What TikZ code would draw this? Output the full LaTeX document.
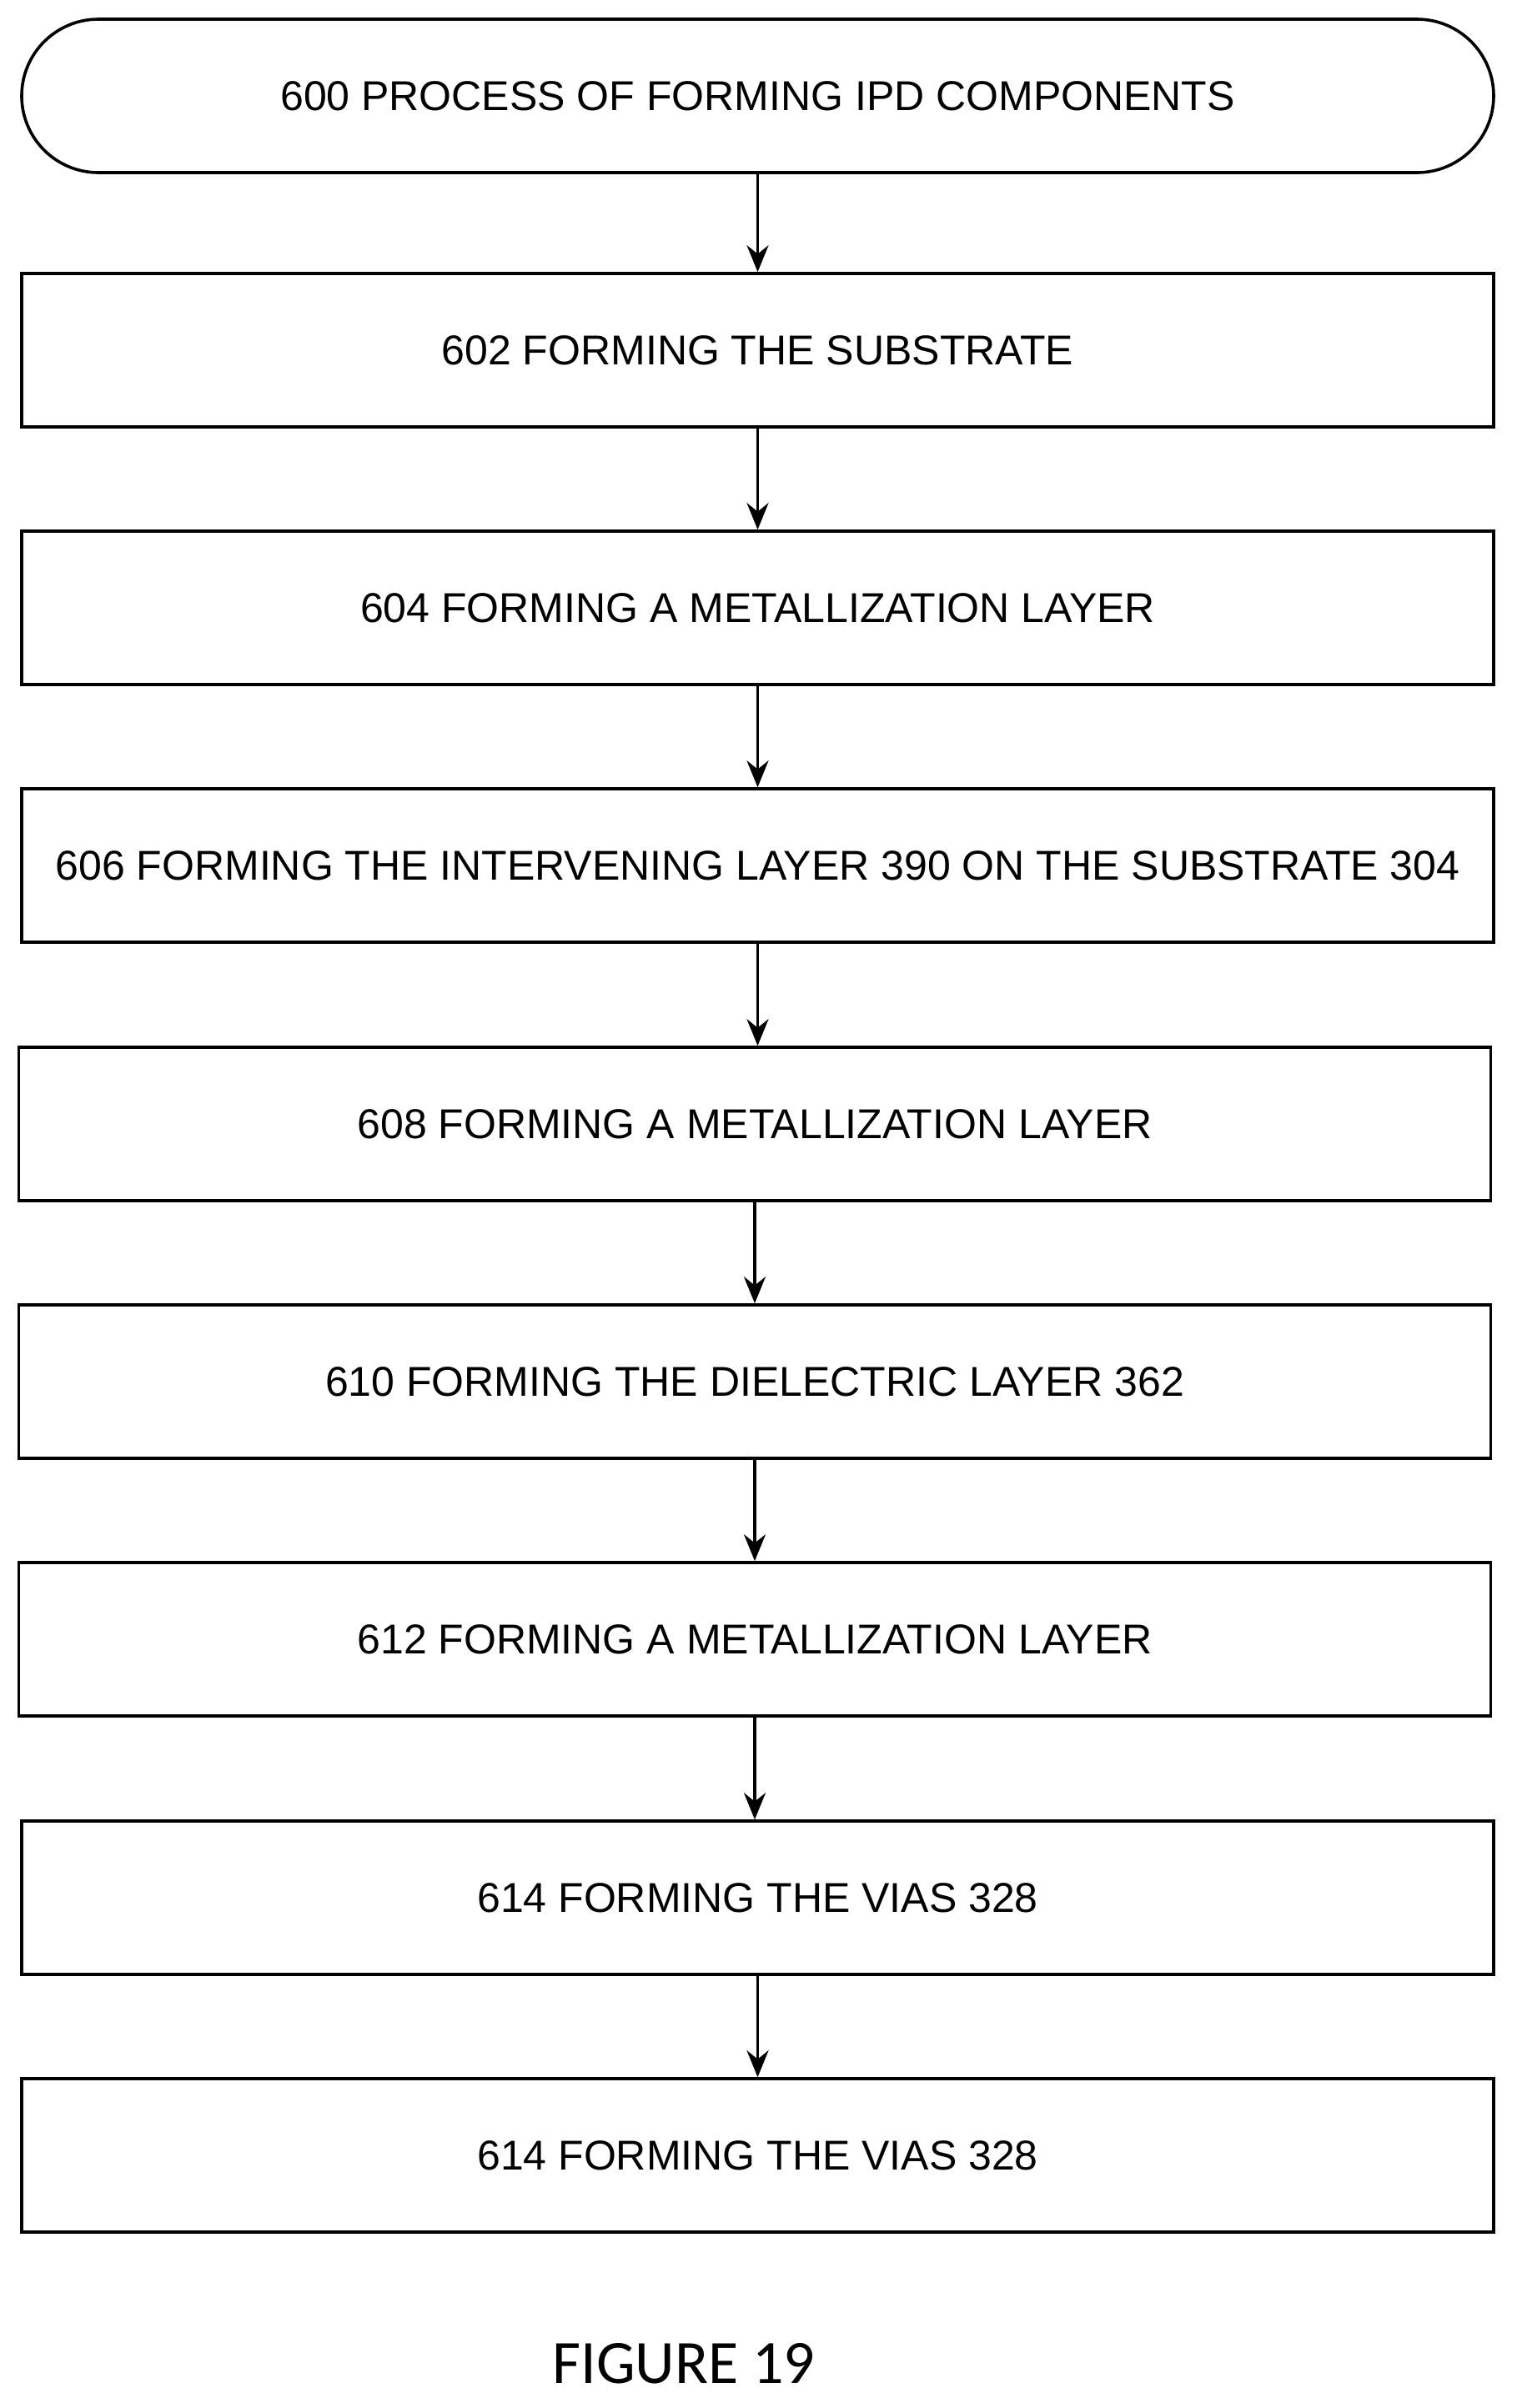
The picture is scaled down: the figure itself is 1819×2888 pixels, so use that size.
\documentclass[tikz,border=0pt]{standalone}
\usepackage{fontspec}
\setmainfont{Liberation Sans}
\newfontfamily\capfont{Carlito}
\usetikzlibrary{arrows.meta}
\begin{document}
\begin{tikzpicture}[x=0.5pt,y=-0.5pt,
  box/.style={draw,line width=1.8pt,minimum width=882.5pt,minimum height=92pt,inner sep=0pt,font=\fontsize{25}{29}\selectfont},
  term/.style={box,rounded corners=46pt},
  arr/.style={line width=1.8pt,-{Stealth[length=16pt,width=13pt]}}]
\useasboundingbox (0,0) rectangle (1819,2888);
\node[term] (t) at (908.5,115) {600 PROCESS OF FORMING IPD COMPONENTS};
\node[box] (b1) at (908.5,420) {602 FORMING THE SUBSTRATE};
\node[box] (b2) at (908.5,729) {604 FORMING A METALLIZATION LAYER};
\node[box] (b3) at (908.5,1038) {606 FORMING THE INTERVENING LAYER 390 ON THE SUBSTRATE 304};
\node[box] (b4) at (905,1348) {608 FORMING A METALLIZATION LAYER};
\node[box] (b5) at (905,1657) {610 FORMING THE DIELECTRIC LAYER 362};
\node[box] (b6) at (905,1966) {612 FORMING A METALLIZATION LAYER};
\node[box] (b7) at (908.5,2276) {614 FORMING THE VIAS 328};
\node[box] (b8) at (908.5,2585) {614 FORMING THE VIAS 328};
\foreach \a/\b in {t/b1,b1/b2,b2/b3,b3/b4,b4/b5,b5/b6,b6/b7,b7/b8}
  \draw[arr] (\a.south) -- (\a.south |- \b.north);
\node[font=\capfont\fontsize{37}{42}\selectfont] (cap) at (820,2835) {FIGURE 19};
\end{tikzpicture}
\end{document}
